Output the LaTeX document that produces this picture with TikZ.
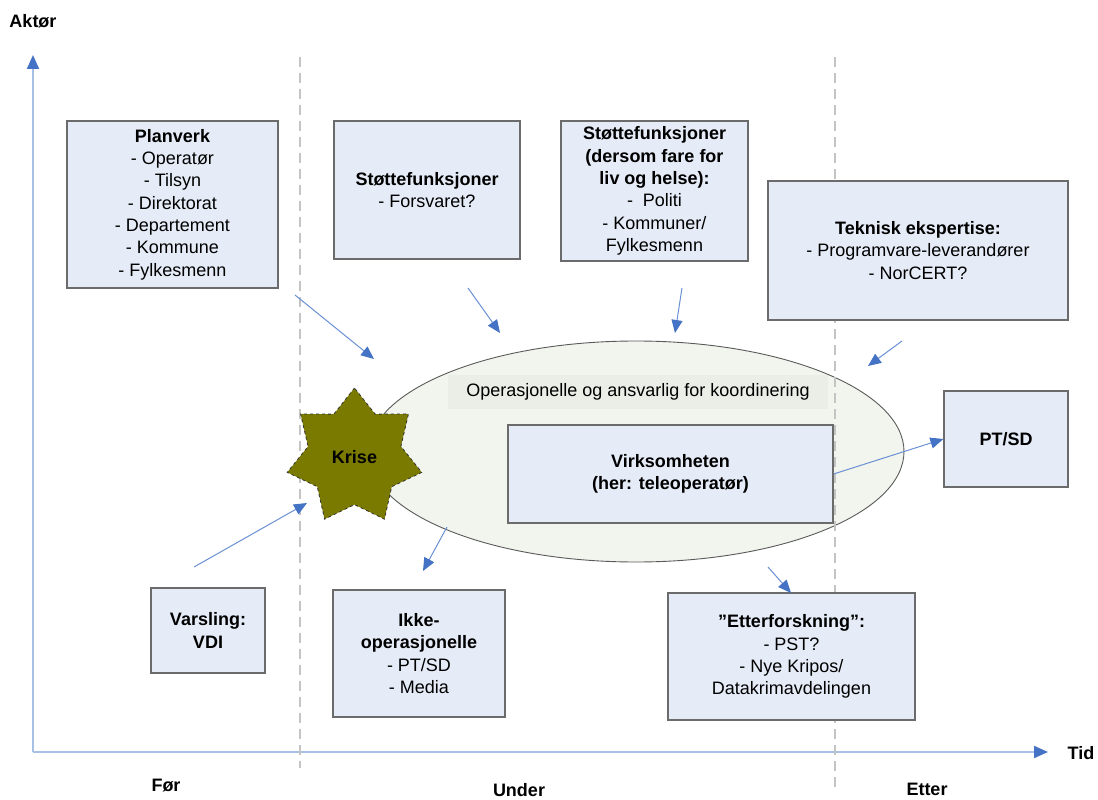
\documentclass[tikz,border=0pt]{standalone}
\usepackage{fontspec}
\setmainfont{Liberation Sans}
\usetikzlibrary{shapes.geometric,arrows.meta}
\definecolor{boxfill}{HTML}{E6ECF7}
\definecolor{boxline}{HTML}{6B6B6B}
\definecolor{axisline}{HTML}{A9C0E6}
\definecolor{tipblue}{HTML}{4472C4}
\definecolor{linkblue}{HTML}{6A90D4}
\definecolor{guide}{HTML}{C4C4C4}
\definecolor{ovalfill}{HTML}{F2F4EE}
\definecolor{ovalline}{HTML}{5A5A5A}
\definecolor{labelbg}{HTML}{EBEEE6}
\definecolor{crisis}{HTML}{7A7A00}
\begin{document}
\begin{tikzpicture}[x=1pt,y=-1pt,
  font=\fontsize{18}{22.3}\selectfont,
  infobox/.style={draw=boxline, line width=1.2pt, fill=boxfill, align=center, inner sep=0pt, anchor=center},
  link/.style={draw=linkblue, line width=1pt, -{Triangle[length=13pt,width=11pt,fill=tipblue,color=tipblue]}},
  axis/.style={draw=axisline, line width=2pt, -{Triangle[length=14pt,width=12pt,fill=tipblue,color=tipblue]}},
  guideline/.style={draw=guide, line width=2pt, dash pattern=on 10pt off 6pt},
  axislabel/.style={font=\fontsize{18}{22}\selectfont\bfseries, inner sep=0pt},
]
\useasboundingbox (0,0) rectangle (1098,800);

% axes
\coordinate (origin) at (33,752);
\coordinate (ytop) at (33,55);
\coordinate (xend) at (1048,752);
\draw[axis] (origin) -- (ytop);
\draw[axis] (origin) -- (xend);

% axis and phase labels
\node[axislabel] (aktor) at (33,21) {Aktør};
\node[axislabel] (tid) at (1081,753) {Tid};
\node[axislabel] (for) at (166,786) {Før};
\node[axislabel] (under) at (519,790) {Under};
\node[axislabel] (etter) at (927,789) {Etter};

% coordination oval
\node[ellipse, draw=ovalline, line width=0.9pt, fill=ovalfill, minimum width=536pt, minimum height=221pt, inner sep=0pt] (oval) at (636,451.5) {};
\node[fill=labelbg, minimum width=380pt, minimum height=34pt, inner sep=0pt] (oplabel) at (638,392) {Operasjonelle og ansvarlig for koordinering};

% phase separators
\coordinate (sep1top) at (300,57);
\coordinate (sep1bot) at (300,768);
\coordinate (sep2top) at (835,57);
\coordinate (sep2bot) at (835,787);
\draw[guideline] (sep1top) -- (sep1bot);
\draw[guideline] (sep2top) -- (sep2bot);

% crisis star
\node[star, star points=7, star point ratio=1.45, minimum size=138pt, inner sep=0pt,
      fill=crisis, draw=black!80, dashed, line width=0.8pt, font=\fontsize{18}{22}\selectfont\bfseries] (krise) at (354.5,457) {Krise};

% actor boxes
\node[infobox, minimum width=211pt, minimum height=167pt] (planverk) at (172.5,204.5)
  {\textbf{Planverk}\\- Operatør\\- Tilsyn\\- Direktorat\\- Departement\\- Kommune\\- Fylkesmenn};
\node[infobox, minimum width=186pt, minimum height=138pt] (forsvaret) at (427,190)
  {\textbf{Støttefunksjoner}\\- Forsvaret?};
\node[infobox, minimum width=187pt, minimum height=140pt] (liv) at (654.5,191)
  {\textbf{Støttefunksjoner}\\\textbf{(dersom fare for}\\\textbf{liv og helse):}\\-\ \ Politi\\- Kommuner/\\Fylkesmenn};
\node[infobox, minimum width=300pt, minimum height=139pt] (teknisk) at (918,250.5)
  {\textbf{Teknisk ekspertise:}\\- Programvare-leverandører\\- NorCERT?};
\node[infobox, minimum width=325pt, minimum height=98pt] (virk) at (670.5,474)
  {\textbf{Virksomheten}\\\textbf{(her: teleoperatør)}};
\node[infobox, minimum width=124pt, minimum height=96pt] (ptsd) at (1006,439)
  {\textbf{PT/SD}};
\node[infobox, minimum width=114pt, minimum height=85pt] (varsling) at (208,630.5)
  {\textbf{Varsling:}\\\textbf{VDI}};
\node[infobox, minimum width=172pt, minimum height=127pt] (ikke) at (419,653.5)
  {\textbf{Ikke-}\\\textbf{operasjonelle}\\- PT/SD\\- Media};
\node[infobox, minimum width=247pt, minimum height=127pt] (etterf) at (791.5,656.5)
  {\textbf{”Etterforskning”:}\\- PST?\\- Nye Kripos/\\Datakrimavdelingen};

% connectors
\coordinate (a1s) at (295,295);  \coordinate (a1e) at (374,359);
\coordinate (a2s) at (468,288);  \coordinate (a2e) at (500,333);
\coordinate (a3s) at (682,288);  \coordinate (a3e) at (675,333);
\coordinate (a4s) at (902,341);  \coordinate (a4e) at (868,366);
\coordinate (a5s) at (194,567);  \coordinate (a5e) at (307,503);
\coordinate (a6s) at (447,527);  \coordinate (a6e) at (423,571);
\coordinate (a7s) at (768,567);  \coordinate (a7e) at (791,593);
\draw[link] (a1s) -- (a1e);
\draw[link] (a2s) -- (a2e);
\draw[link] (a3s) -- (a3e);
\draw[link] (a4s) -- (a4e);
\draw[link] (a5s) -- (a5e);
\draw[link] (a6s) -- (a6e);
\draw[link] (a7s) -- (a7e);
\draw[link] (virk.east) -- (ptsd.west);
\end{tikzpicture}
\end{document}
